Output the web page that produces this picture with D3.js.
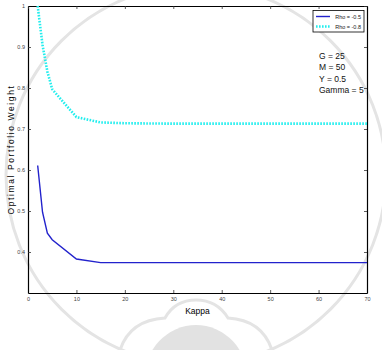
<!DOCTYPE html>
<html>
<head>
<meta charset="utf-8">
<script src="https://cdn.jsdelivr.net/npm/d3@7"></script>
<style>
  body { margin: 0; background: #fff; }
  svg { font-family: "Liberation Sans", Arial, sans-serif; }
</style>
</head>
<body>
<div id="chart"></div>
<script>
// values
const kappa = [2, 3, 4, 5, 10, 15, 20, 30, 40, 50, 60, 70]
const rho05 = [0.611, 0.497, 0.446, 0.430, 0.383, 0.374, 0.374, 0.374, 0.374, 0.374, 0.374, 0.374]
const rho08 = [1.0, 0.905, 0.840, 0.797, 0.729, 0.716, 0.714, 0.713, 0.713, 0.713, 0.713, 0.713]
const xTicks = [0, 10, 20, 30, 40, 50, 60, 70]
const yTicks = [0.4, 0.5, 0.6, 0.7, 0.8, 0.9, 1]
const seriesNames = ['Rho = -0.5', 'Rho = -0.8']
const notes = ['G = 25', 'M = 50', 'Y = 0.5', 'Gamma = 5']

const width = 382, height = 350
const margin = { top: 6, right: 15, bottom: 57, left: 28 }

const svg = d3.select('#chart').append('svg')
  .attr('width', width)
  .attr('height', height)

// faint watermark behind the chart
const wm = svg.append('g').attr('fill', 'none').attr('stroke', '#e4e4e4').attr('stroke-width', 3)
wm.append('ellipse').attr('cx', 196).attr('cy', 380).attr('rx', 52).attr('ry', 55)
  .attr('fill', '#e2e2e2').attr('stroke', 'none')
wm.append('path').attr('d', 'M120,350 Q130,320 165,318 Q175,300 196,300 Q217,300 228,318 Q262,320 272,350')
wm.append('circle').attr('cx', 196).attr('cy', 175).attr('r', 190)

const x = d3.scaleLinear().domain([0, 70]).range([margin.left, width - margin.right])
const y = d3.scaleLinear().domain([0.3, 1]).range([height - margin.bottom, margin.top])

const plot = svg.append('g')

// axes box with inward ticks on all sides
const tickLen = 3
const axisColor = '#000'
const bottomAxis = d3.axisBottom(x).tickValues(xTicks).tickSizeInner(-tickLen).tickSizeOuter(0).tickPadding(4)
const leftAxis = d3.axisLeft(y).tickValues(yTicks).tickFormat(d3.format('')).tickSizeInner(-tickLen).tickSizeOuter(0).tickPadding(3)
const topAxis = d3.axisTop(x).tickValues(xTicks).tickSizeInner(-tickLen).tickSizeOuter(0).tickFormat('')
const rightAxis = d3.axisRight(y).tickValues(yTicks).tickSizeInner(-tickLen).tickSizeOuter(0).tickFormat('')

function styleAxis(g) {
  g.select('.domain').attr('stroke', axisColor).attr('stroke-width', 1.2)
  g.selectAll('.tick line').attr('stroke', '#333').attr('stroke-width', 0.8)
  g.selectAll('.tick text').attr('fill', '#444').style('font-size', '5.5px')
}

plot.append('g').attr('transform', `translate(0,${height - margin.bottom})`).call(bottomAxis).call(styleAxis)
plot.append('g').attr('transform', `translate(${margin.left},0)`).call(leftAxis).call(styleAxis)
plot.append('g').attr('transform', `translate(0,${margin.top})`).call(topAxis).call(styleAxis)
plot.append('g').attr('transform', `translate(${width - margin.right},0)`).call(rightAxis).call(styleAxis)

const line = d3.line().x((d, i) => x(kappa[i])).y(d => y(d))

plot.append('path').datum(rho08)
  .attr('d', line)
  .attr('fill', 'none')
  .attr('stroke', '#22eeee')
  .attr('stroke-width', 2.6)
  .attr('stroke-dasharray', '1.6,1.4')

plot.append('path').datum(rho05)
  .attr('d', line)
  .attr('fill', 'none')
  .attr('stroke', '#2222cc')
  .attr('stroke-width', 1.4)

// axis labels
svg.append('text')
  .attr('x', (x(0) + x(70)) / 2).attr('y', 314)
  .attr('text-anchor', 'middle')
  .style('font-size', '8.5px')
  .text('Kappa')

svg.append('text')
  .attr('transform', `translate(14,${(y(0.3) + y(1)) / 2}) rotate(-90)`)
  .attr('text-anchor', 'middle')
  .style('font-size', '8.5px')
  .style('letter-spacing', '1.6px')
  .text('Optimal Portfolio Weight')

// legend
const legend = svg.append('g').attr('transform', 'translate(313,10.5)')
legend.append('rect').attr('width', 51).attr('height', 21.5)
  .attr('fill', '#fff').attr('stroke', '#000').attr('stroke-width', 0.8)
const legStyles = [
  { color: '#2222cc', w: 1.4, dash: null },
  { color: '#22eeee', w: 2.4, dash: '1.6,1.4' }
]
seriesNames.forEach((name, i) => {
  const yy = 6 + i * 10
  legend.append('line').attr('x1', 3).attr('x2', 17).attr('y1', yy).attr('y2', yy)
    .attr('stroke', legStyles[i].color).attr('stroke-width', legStyles[i].w)
    .attr('stroke-dasharray', legStyles[i].dash)
  legend.append('text').attr('x', 48).attr('y', yy + 2)
    .attr('text-anchor', 'end')
    .style('font-size', '5.5px').attr('fill', '#222')
    .text(name)
})

// parameter notes
svg.append('g').selectAll('text').data(notes).join('text')
  .attr('x', 319).attr('y', (d, i) => 59 + i * 11.3)
  .style('font-size', '8.5px')
  .attr('fill', '#111')
  .text(d => d)
</script>
</body>
</html>
